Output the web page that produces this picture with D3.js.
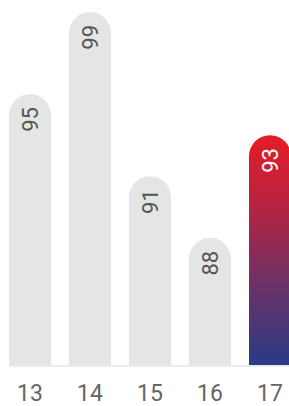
<!DOCTYPE html>
<html>
<head>
<meta charset="utf-8">
<script src="https://cdn.jsdelivr.net/npm/d3@7"></script>
<style>
  html, body { margin: 0; padding: 0; background: #fff; overflow: hidden; }
  text { font-family: Roboto, "Open Sans", sans-serif; }
</style>
</head>
<body>
<div class="bars"></div>
<script>
// chart data
const categories = ["13", "14", "15", "16", "17"]
const values = [95, 99, 91, 88, 93]
const highlight = "17"

let width = 289
let height = 406
let baseY = 365

let svg = d3.select(".bars")
    .append("svg")
    .attr("width", width)
    .attr("height", height)

// gradient for the highlighted bar
let grad = svg.append("defs")
    .append("linearGradient")
    .attr("id", "hot")
    .attr("x1", 0).attr("y1", 0)
    .attr("x2", 0).attr("y2", 1)
grad.append("stop").attr("offset", "0%").attr("stop-color", "#e31d27")
grad.append("stop").attr("offset", "30%").attr("stop-color", "#b92340")
grad.append("stop").attr("offset", "65%").attr("stop-color", "#6b3266")
grad.append("stop").attr("offset", "100%").attr("stop-color", "#2b3a86")

let x = d3.scaleBand()
    .domain(categories)
    .range([0, 300])
    .paddingInner(0.3)
    .paddingOuter(0.15)

let y = d3.scaleLinear()
    .domain([81.8, 99])
    .range([baseY, 12])

let data = categories.map((c, i) => ({cat: c, value: values[i]}))

// rounded-top bar path
function barPath(d) {
    let x0 = x(d.cat)
    let w = x.bandwidth()
    let r = w / 2
    let top = y(d.value)
    return "M" + x0 + "," + baseY +
        "V" + (top + r) +
        "A" + r + "," + r + " 0 0 1 " + (x0 + w) + "," + (top + r) +
        "V" + baseY + "Z"
}

// baseline
svg.append("rect")
    .attr("x", x(categories[0]))
    .attr("y", baseY)
    .attr("width", width)
    .attr("height", 2)
    .attr("fill", "#eaecec")

svg.selectAll(".bar")
    .data(data)
    .enter()
    .append("path")
    .attr("class", "bar")
    .attr("d", barPath)
    .attr("fill", d => d.cat === highlight ? "url(#hot)" : "#e4e6e6")

// value labels, reading bottom to top
svg.selectAll(".val")
    .data(data)
    .enter()
    .append("text")
    .attr("class", "val")
    .attr("transform", d => "translate(" + (x(d.cat) + x.bandwidth() / 2) + "," + (y(d.value) + 13) + ") rotate(-90)")
    .attr("dy", "0.35em")
    .style("text-anchor", "end")
    .style("font-size", "22px")
    .attr("fill", d => d.cat === highlight ? "#ffffff" : "#555555")
    .text(d => d.value)

// category labels
svg.selectAll(".cat")
    .data(data)
    .enter()
    .append("text")
    .attr("class", "cat")
    .attr("x", d => x(d.cat) + x.bandwidth() / 2)
    .attr("y", 401)
    .style("text-anchor", "middle")
    .style("font-size", "23px")
    .attr("fill", "#666666")
    .text(d => d.cat)
</script>
</body>
</html>
